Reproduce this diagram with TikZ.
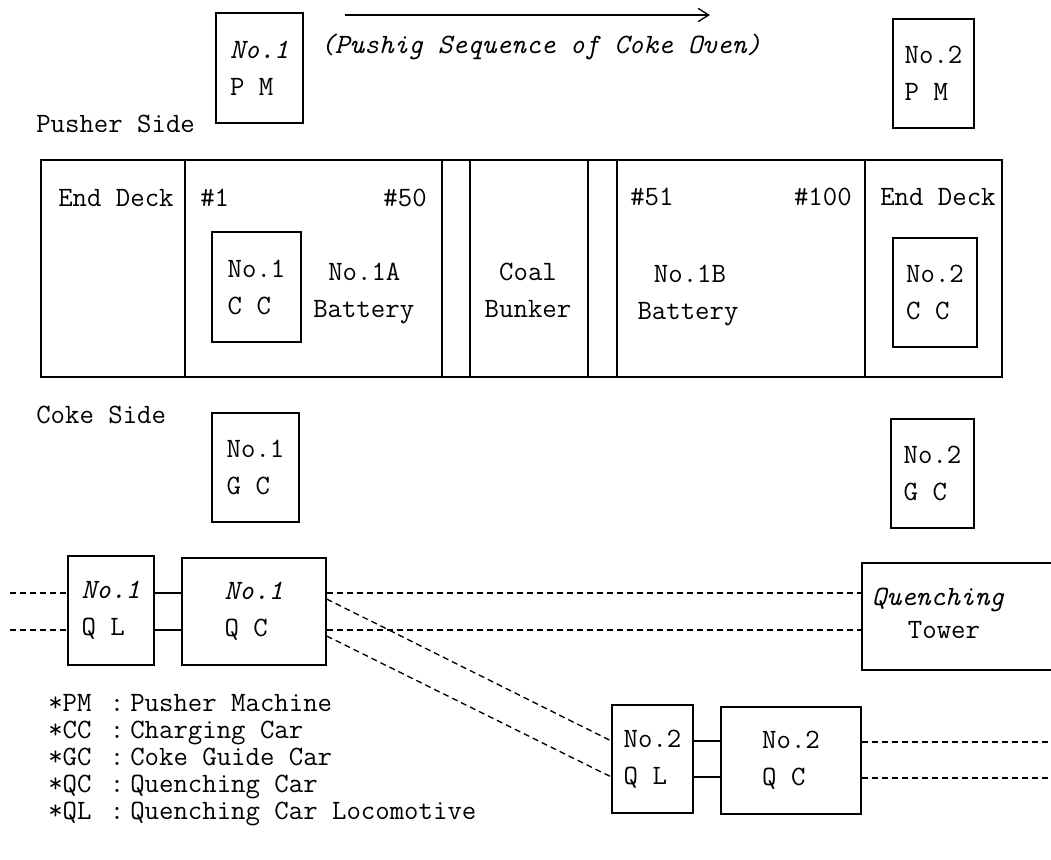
\documentclass[tikz,border=0pt]{standalone}
\usepackage{fontspec}
\usetikzlibrary{arrows.meta}
\newcommand\tf{\fontsize{21}{27.75}\selectfont\ttfamily\addfontfeatures{FakeBold=2.5}}
\begin{document}
\begin{tikzpicture}[x=0.75pt,y=-0.75pt,
  every node/.style={font=\tf, inner sep=0pt},
  ln/.style={line width=1pt},
  box/.style={draw, ln, align=left},
  dl/.style={line width=1pt, dash pattern=on 4.5pt off 3pt},
  lbl/.style={anchor=base west},
  lblr/.style={anchor=base east},
  lblc/.style={anchor=base},
]
\clip (0,0) rectangle (1051,860);
\fill[white] (0,0) rectangle (1051,860);

% ---- pusher side
\node[box, minimum width=65.25pt, minimum height=82.5pt] (pm1) at (259.5,68) {{\itshape No.1}\\P M};
\node[box, minimum width=60.75pt, minimum height=81.75pt] (pm2) at (933.5,73.5) {No.2\\P M};
\coordinate (a1) at (345,15);
\coordinate (a2) at (710,15);
\draw[ln,-{Straight Barb[length=8pt,width=10pt]}] (a1) -- (a2);
\node[lbl, font=\tf\itshape] (seq) at (320,53) {(Pushig Sequence of Coke Oven)};
\node[lbl] (ps) at (36,132) {Pusher Side};

% ---- battery block
\node[draw, ln, minimum width=720.75pt, minimum height=162.75pt] (bat) at (521.5,268.5) {};
\foreach \x in {185,442,470,588,617,865} \draw[ln] (\x,160) -- (\x,377);
\node[lbl] (ed1) at (58,206) {End Deck};
\node[lbl] (n1) at (200,206) {\#1};
\node[lblr] (n50) at (427,206) {\#50};
\node[lbl] (n51) at (630,205) {\#51};
\node[lblr] (n100) at (852,205) {\#100};
\node[lbl] (ed2) at (880,205) {End Deck};
\node[box, minimum width=66.75pt, minimum height=82.5pt] (cc1) at (256.5,287) {No.1\\C C};
\node[lbl] (b1a) at (328,280) {No.1A};
\node[lbl] (b1ab) at (313,317) {Battery};
\node[lblc] (coal) at (528,280) {Coal};
\node[lblc] (bunk) at (528,317) {Bunker};
\node[lblc] (b1b) at (690,282) {No.1B};
\node[lblc] (b1bb) at (688,319) {Battery};
\node[box, minimum width=63pt, minimum height=81.75pt] (cc2) at (935,292.5) {No.2\\C C};

% ---- coke side
\node[lbl] (cs) at (36,423) {Coke Side};
\node[box, minimum width=65.25pt, minimum height=81.75pt] (gc1) at (255.5,467.5) {No.1\\G C};
\node[box, minimum width=62.25pt, minimum height=81.75pt] (gc2) at (932.5,473.5) {No.2\\G C};

% ---- quenching row 1
\node[box, minimum width=64.5pt, minimum height=81.75pt] (ql1) at (111,610.5) {{\itshape No.1}\\Q L};
\node[box, minimum width=108pt, minimum height=80.25pt] (qc1) at (254,611.5) {{\itshape No.1}\\Q C};
\node[draw, ln, minimum width=178.5pt, minimum height=80.25pt] (qt) at (981,616.5) {};
\node[lblc, font=\tf\itshape] (qt1) at (938,605) {Quenching};
\node[lblc] (qt2) at (944,638) {Tower};

% ---- quenching row 2
\node[box, minimum width=60.75pt, minimum height=81pt] (ql2) at (652.5,759) {No.2\\Q L};
\node[box, minimum width=105pt, minimum height=80.25pt] (qc2) at (791,760.5) {No.2\\Q C};

% ---- track lines
\coordinate (l1) at (10,593);
\coordinate (l2) at (10,630);
\coordinate (d1) at (0,599);
\coordinate (d2) at (0,636);
\coordinate (e1) at (0,741);
\coordinate (e2) at (0,777);
\coordinate (m1) at (1048,742);
\coordinate (m2) at (1048,778);
\draw[dl] (l1) -- (ql1.west |- l1);
\draw[dl] (l2) -- (ql1.west |- l2);
\draw[ln] (ql1.east |- l1) -- (qc1.west |- l1);
\draw[ln] (ql1.east |- l2) -- (qc1.west |- l2);
\draw[dl] (qc1.east |- l1) -- (qt.west |- l1);
\draw[dl] (qc1.east |- l2) -- (qt.west |- l2);
\draw[dl] (qc1.east |- d1) -- (ql2.west |- e1);
\draw[dl] (qc1.east |- d2) -- (ql2.west |- e2);
\draw[ln] (ql2.east |- e1) -- (qc2.west |- e1);
\draw[ln] (ql2.east |- e2) -- (qc2.west |- e2);
\draw[dl] (qc2.east |- m1) -- (m1);
\draw[dl] (qc2.east |- m2) -- (m2);

% ---- legend
\foreach \k/\t [count=\i] in {PM/Pusher Machine, CC/Charging Car, GC/Coke Guide Car, QC/Quenching Car, QL/Quenching Car Locomotive}{
  \pgfmathsetmacro\yy{684+27*\i}
  \node[lbl] (key\i) at (48,\yy) {*\k};
  \node[lblc] (col\i) at (117,\yy) {:};
  \node[lbl] (txt\i) at (130,\yy) {\t};
}
\end{tikzpicture}
\end{document}
